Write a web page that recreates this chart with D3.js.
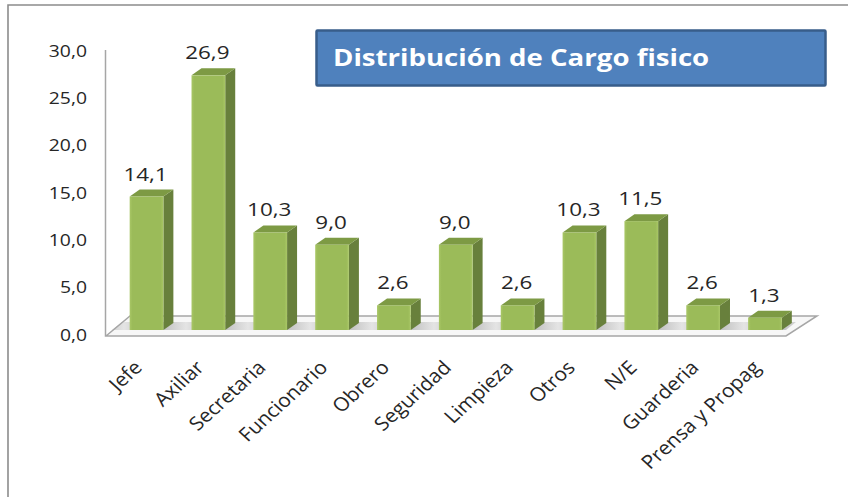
<!DOCTYPE html>
<html>
<head>
<meta charset="utf-8">
<script src="https://cdn.jsdelivr.net/npm/d3@7"></script>
<style>
  html, body { margin: 0; padding: 0; background: #fff; overflow: hidden; }
  text { font-family: "Open Sans", "Noto Sans", sans-serif; fill: #262626; }
</style>
</head>
<body>
<script>
const categories = ["Jefe", "Axiliar", "Secretaria", "Funcionario", "Obrero", "Seguridad", "Limpieza", "Otros", "N/E", "Guarderia", "Prensa y Propag"];
const values = [14.1, 26.9, 10.3, 9.0, 2.6, 9.0, 2.6, 10.3, 11.5, 2.6, 1.3];
const yTicks = [0, 5, 10, 15, 20, 25, 30];
const titleText = "Distribución de Cargo fisico";

const width = 848, height = 497;
const comma = d => d.toFixed(1).replace(".", ",");
// the reference is a picture stretched sideways, so all text is widened a bit
const stretch = 1.18;

const svg = d3.select("body").append("svg")
  .attr("width", width)
  .attr("height", height);

const defs = svg.append("defs");

// front face of the bars, lighter on the edges
const front = defs.append("linearGradient").attr("id", "barFront");
front.append("stop").attr("offset", "0%").attr("stop-color", "#a9c766");
front.append("stop").attr("offset", "8%").attr("stop-color", "#9bbb59");
front.append("stop").attr("offset", "92%").attr("stop-color", "#9bbb59");
front.append("stop").attr("offset", "100%").attr("stop-color", "#a9c766");

const floorFill = defs.append("linearGradient").attr("id", "floorFill")
  .attr("gradientUnits", "userSpaceOnUse")
  .attr("x1", 0).attr("x2", 62).attr("y1", 0).attr("y2", 0)
  .attr("spreadMethod", "repeat");
floorFill.append("stop").attr("offset", "0%").attr("stop-color", "#e4e4e4");
floorFill.append("stop").attr("offset", "50%").attr("stop-color", "#b5b5b5");
floorFill.append("stop").attr("offset", "100%").attr("stop-color", "#e4e4e4");

const y = d3.scaleLinear().domain([0, 30]).range([330, 46]);
const x = d3.scaleBand().domain(categories).range([115.6, 795.9]).paddingInner(0.455).paddingOuter(0.2275);

const dx = 10, dy = -7;

// outer frame
svg.append("path")
  .attr("d", "M8,497V5H848")
  .attr("fill", "none")
  .attr("stroke", "#8c8c8c")
  .attr("stroke-width", 1.6);

// floor and walls
svg.append("path")
  .attr("d", "M106,336H786L817,316H130Z")
  .attr("fill", "#f7f7f7");
svg.append("path")
  .attr("d", "M122,322H796L786,330H112Z")
  .attr("fill", "url(#floorFill)");
svg.append("path")
  .attr("d", "M105.5,50V336H786L817,316H130L106,336")
  .attr("fill", "none")
  .attr("stroke", "#a6a6a6")
  .attr("stroke-width", 1.5);

// y axis labels
const yAxis = d3.axisLeft(y).tickValues(yTicks).tickFormat(comma).tickSize(0).tickPadding(0);
const yG = svg.append("g").attr("transform", "translate(87,0)").call(yAxis);
yG.select(".domain").remove();
yG.selectAll("text")
  .attr("x", 0)
  .attr("y", 5)
  .attr("dy", "0.32em")
  .attr("transform", `scale(${stretch},1)`)
  .style("font-size", "16.4px")
  .style("fill", "#262626");

// bars
const bar = svg.selectAll("g.bar")
  .data(categories.map((c, i) => ({ c, v: values[i] })))
  .join("g")
  .attr("class", "bar");

bar.append("path")
  .attr("fill", "#68803c")
  .attr("d", d => {
    const r = x(d.c) + x.bandwidth();
    return `M${r},${y(d.v)}l${dx},${dy}V${y(0) + dy}l${-dx},${-dy}Z`;
  });
bar.append("path")
  .attr("fill", "#7d9a44")
  .attr("d", d => {
    const l = x(d.c), r = l + x.bandwidth();
    return `M${l},${y(d.v)}l${dx},${dy}H${r + dx}l${-dx},${-dy}Z`;
  });
bar.append("rect")
  .attr("x", d => x(d.c))
  .attr("y", d => y(d.v))
  .attr("width", x.bandwidth())
  .attr("height", d => y(0) - y(d.v))
  .attr("fill", "url(#barFront)");

// value labels
bar.append("text")
  .attr("text-anchor", "middle")
  .attr("transform", d => `translate(${x(d.c) + x.bandwidth() / 2 - 1},${y(d.v) - 16}) scale(${stretch},1)`)
  .style("font-size", "19px")
  .text(d => comma(d.v));

// category labels
svg.selectAll("text.cat")
  .data(categories)
  .join("text")
  .attr("class", "cat")
  .attr("text-anchor", "end")
  .attr("transform", d => `translate(${x(d) + x.bandwidth() / 2 - 15},358) scale(1.1,1) rotate(-45)`)
  .attr("dy", "0.8em")
  .style("font-size", "19px")
  .text(d => d);

// title box
svg.append("rect")
  .attr("x", 316.5).attr("y", 30.5)
  .attr("width", 509).attr("height", 55)
  .attr("rx", 1)
  .attr("fill", "#4f81bd")
  .attr("stroke", "#385d8a")
  .attr("stroke-width", 2.5);
svg.append("text")
  .attr("transform", "translate(333,66) scale(1.15,1)")
  .style("font-size", "24px")
  .style("font-weight", 700)
  .style("fill", "#fff")
  .text(titleText);
</script>
</body>
</html>
